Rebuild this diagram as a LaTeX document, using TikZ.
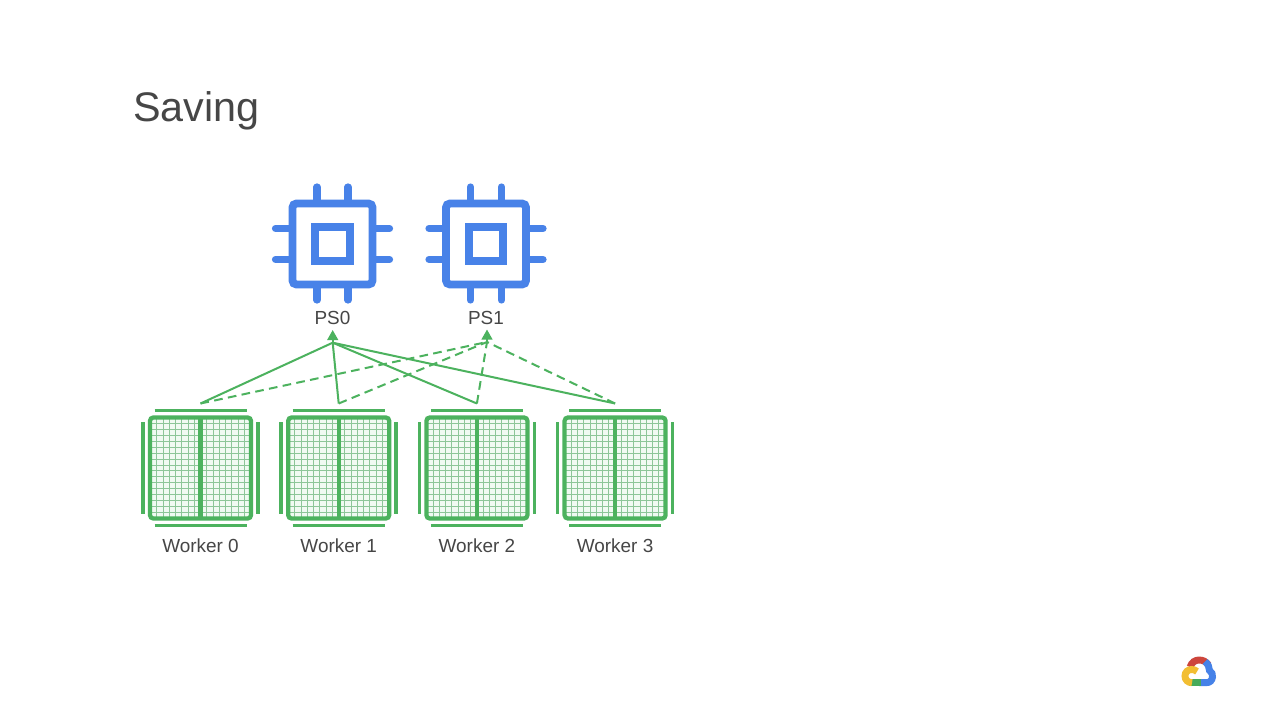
\documentclass[tikz,border=0pt]{standalone}
\usepackage{fontspec}
\setmainfont{Liberation Sans}
\usetikzlibrary{arrows.meta}
\definecolor{chipblue}{RGB}{72,130,232}
\definecolor{linkgreen}{RGB}{76,178,94}
\definecolor{gridgreen}{RGB}{140,198,152}
\definecolor{cellfill}{RGB}{240,250,242}
\definecolor{labelgrey}{RGB}{70,70,70}
\definecolor{logored}{RGB}{205,70,60}
\definecolor{logoblue}{RGB}{70,130,232}
\definecolor{logogreen}{RGB}{70,170,90}
\definecolor{logoyellow}{RGB}{242,190,50}
\tikzset{
  chipline/.style={draw=chipblue,line width=5.9pt},
  chippin/.style={draw=chipblue,line width=5.4pt,line cap=round},
  framebar/.style={draw=linkgreen,line width=3.2pt,rounded corners=2.5pt},
  sidebar/.style={draw=linkgreen,line width=2.7pt},
  cellline/.style={draw=gridgreen,line width=0.75pt},
  pull/.style={draw=linkgreen,line width=1.5pt},
  pulldash/.style={pull,dash pattern=on 6.5pt off 4pt},
  tiphead/.style={draw=linkgreen,line width=1.5pt,-{Triangle[width=8pt,length=7.5pt]}},
  caption/.style={text=labelgrey,font=\fontsize{14.2}{16}\selectfont,inner sep=0pt},
  cloudarc/.style={line width=5.2pt,line cap=butt}
}
\newcommand{\chipicon}[1]{%
  \begin{scope}[shift={(#1,244)}]
    \draw[chipline,rounded corners=3pt] (-40,-40.5) rectangle (40,40.5);
    \draw[chipline] (-17.2,-17.2) rectangle (17.2,17.2);
    \foreach \d in {-15.5,15.5} {
      \draw[chippin] (\d,-57) -- (\d,-44);
      \draw[chippin] (\d,44) -- (\d,56);
      \draw[chippin] (-57,\d) -- (-44,\d);
      \draw[chippin] (44,\d) -- (57,\d);
    }
  \end{scope}}
\newcommand{\workericon}[1]{%
  \begin{scope}[shift={(#1,468)}]
    \fill[cellfill] (-50,-50) rectangle (50,50);
    \foreach \i in {1,...,15} {
      \draw[cellline] ({-50+\i*100/16},-50) -- ({-50+\i*100/16},50);
    }
    \foreach \i in {1,...,16} {
      \draw[cellline] (-50,{-50+\i*100/17}) -- (50,{-50+\i*100/17});
    }
    \draw[framebar] (-50.5,-50.5) rectangle (50.5,50.5);
    \draw[framebar,rounded corners=0pt] (0,-50.5) -- (0,50.5);
    \draw[sidebar] (-46,-57.5) -- (46,-57.5);
    \draw[sidebar] (-46,57.5) -- (46,57.5);
    \draw[sidebar] (-57.5,-46) -- (-57.5,46);
    \draw[sidebar] (57.5,-46) -- (57.5,46);
  \end{scope}}
\begin{document}
\begin{tikzpicture}[x=0.75pt,y=-0.75pt]
  \useasboundingbox (0,0) rectangle (1280,720);
  \fill[white] (0,0) rectangle (1280,720);

  \node[anchor=base west,inner sep=0pt,text=labelgrey,font=\fontsize{31}{36}\selectfont] (title) at (133,122) {Saving};

  % Parameter servers
  \chipicon{332.5}
  \chipicon{486}
  \node[caption,anchor=base] (ps0) at (332.5,324) {PS0};
  \node[caption,anchor=base] (ps1) at (486,324) {PS1};

  % Workers
  \foreach \x/\n in {200.5/0,338.7/1,476.9/2,615.1/3} {
    \workericon{\x}
    \node[caption,anchor=base] (worker\n) at (\x,552.5) {Worker \n};
    \coordinate (out\n) at (\x,403.5);
  }

  % Arrival points under the server labels
  \coordinate (in0) at (332.7,342.7);
  \coordinate (in1) at (487,342);
  \coordinate (tip0) at (332.7,330);
  \coordinate (tip1) at (487,329.5);

  \foreach \n in {0,...,3} {
    \draw[pull] (out\n) -- (in0);
    \draw[pulldash] (out\n) -- (in1);
  }
  \draw[tiphead] (in0) -- (tip0);
  \draw[tiphead] (in1) -- (tip1);

  % Cloud mark
  \draw[cloudarc,logored] (1190,667) .. controls (1191.5,662.5) and (1195,660) .. (1199,660) .. controls (1203,660) and (1206,661.5) .. (1208.5,665);
  \draw[cloudarc,logoblue] (1205,661.5) .. controls (1208,664) and (1209.5,667) .. (1209.5,670.5) .. controls (1212,672) and (1212.7,674.5) .. (1212.5,677) .. controls (1212,680.5) and (1210,682.7) .. (1206,682.7) -- (1199,682.7);
  \draw[cloudarc,logogreen] (1201,682.7) -- (1189,682.7);
  \draw[cloudarc,logoyellow] (1192,682.7) .. controls (1188,682.7) and (1185,680) .. (1185,676) .. controls (1185,672) and (1188,669.5) .. (1191.5,669.5) .. controls (1193.5,669.5) and (1195.5,670) .. (1197,671.5);
\end{tikzpicture}
\end{document}
